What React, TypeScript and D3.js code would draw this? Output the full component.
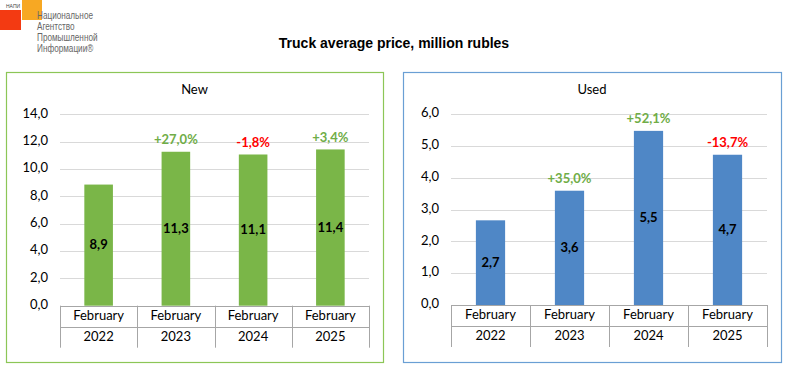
import * as d3 from "d3";
import { useEffect, useRef } from "react";

// ---- data ----
const months = ["February", "February", "February", "February"];
const years = ["2022", "2023", "2024", "2025"];

const newPrices = [8.86, 11.26, 11.06, 11.43];
const newChanges = [null, 27.0, -1.8, 3.4];
const newTicks = [0, 2, 4, 6, 8, 10, 12, 14];

const usedPrices = [2.66, 3.59, 5.47, 4.72];
const usedChanges = [null, 35.0, 52.1, -13.7];
const usedTicks = [0, 1, 2, 3, 4, 5, 6];

const COLORS = {
  green: "#7ab648",
  greenBorder: "#8cc657",
  greenText: "#70ad47",
  blue: "#4f87c6",
  blueBorder: "#6a9fd4",
  red: "#ff0000",
  grid: "#d9d9d9",
  axis: "#a6a6a6",
  text: "#000000",
};

const FONT = "Lato, 'Liberation Sans', sans-serif";

const fmtValue = (v: number) => d3.format(".1f")(v).replace(".", ",");
const fmtChange = (v: number) =>
  d3.format("+.1f")(v).replace("\u2212", "-").replace(".", ",") + "%";

interface PanelConfig {
  title: string;
  values: number[];
  changes: (number | null)[];
  ticks: number[];
  barColor: string;
  borderColor: string;
  box: { x: number; y: number; w: number; h: number };
  plot: { left: number; right: number; top: number; bottom: number };
}

type Sel = d3.Selection<SVGSVGElement, unknown, null, undefined>;

function renderPanel(svg: Sel, cfg: PanelConfig) {
  const g = svg.append("g");
  const { box, plot } = cfg;

  // frame
  g.append("rect")
    .attr("x", box.x + 0.5)
    .attr("y", box.y + 0.5)
    .attr("width", box.w)
    .attr("height", box.h)
    .attr("fill", "#fff")
    .attr("stroke", cfg.borderColor)
    .attr("stroke-width", 1.2);

  // panel title
  g.append("text")
    .attr("x", box.x + box.w / 2)
    .attr("y", box.y + 19)
    .attr("text-anchor", "middle")
    .attr("dominant-baseline", "middle")
    .attr("font-size", 13)
    .attr("fill", COLORS.text)
    .text(cfg.title);

  const x = d3
    .scaleBand<number>()
    .domain(d3.range(cfg.values.length))
    .range([plot.left, plot.right])
    .paddingInner(0)
    .paddingOuter(0);

  const y = d3
    .scaleLinear()
    .domain([0, d3.max(cfg.ticks) as number])
    .range([plot.bottom, plot.top]);

  // gridlines + y labels
  g.selectAll(".grid")
    .data(cfg.ticks.filter((t) => t > 0))
    .join("line")
    .attr("x1", plot.left)
    .attr("x2", plot.right)
    .attr("y1", (d) => Math.round(y(d)) + 0.5)
    .attr("y2", (d) => Math.round(y(d)) + 0.5)
    .attr("stroke", COLORS.grid);

  g.selectAll(".ylab")
    .data(cfg.ticks)
    .join("text")
    .attr("x", plot.left - 12)
    .attr("y", (d) => y(d))
    .attr("text-anchor", "end")
    .attr("dominant-baseline", "middle")
    .attr("font-size", 13)
    .attr("fill", COLORS.text)
    .text((d) => fmtValue(d));

  // bars
  const bw = x.bandwidth() * 0.37;
  g.selectAll(".bar")
    .data(cfg.values)
    .join("rect")
    .attr("x", (_, i) => (x(i) as number) + (x.bandwidth() - bw) / 2)
    .attr("y", (d) => y(d))
    .attr("width", bw)
    .attr("height", (d) => y(0) - y(d))
    .attr("fill", cfg.barColor);

  // value labels inside bars
  g.selectAll(".val")
    .data(cfg.values)
    .join("text")
    .attr("x", (_, i) => (x(i) as number) + x.bandwidth() / 2)
    .attr("y", (d) => (y(d) + y(0)) / 2 + 1)
    .attr("text-anchor", "middle")
    .attr("dominant-baseline", "middle")
    .attr("font-size", 13)
    .attr("font-weight", "bold")
    .attr("fill", COLORS.text)
    .text((d) => fmtValue(d));

  // change labels above bars
  g.selectAll(".chg")
    .data(cfg.values)
    .join("text")
    .attr("x", (_, i) => (x(i) as number) + x.bandwidth() / 2)
    .attr("y", (d) => y(d) - 11)
    .attr("text-anchor", "middle")
    .attr("dominant-baseline", "middle")
    .attr("font-size", 13)
    .attr("font-weight", "bold")
    .attr("fill", (_, i) =>
      (cfg.changes[i] ?? 0) < 0 ? COLORS.red : COLORS.greenText
    )
    .text((_, i) => (cfg.changes[i] == null ? "" : fmtChange(cfg.changes[i]!)));

  // category axis (two-level, Excel style)
  const axisBottom = plot.bottom + 42;
  const midLine = plot.bottom + 21;
  g.append("line")
    .attr("x1", plot.left)
    .attr("x2", plot.right)
    .attr("y1", Math.round(plot.bottom) + 0.5)
    .attr("y2", Math.round(plot.bottom) + 0.5)
    .attr("stroke", COLORS.axis);
  g.append("line")
    .attr("x1", plot.left)
    .attr("x2", plot.right)
    .attr("y1", Math.round(midLine) + 0.5)
    .attr("y2", Math.round(midLine) + 0.5)
    .attr("stroke", COLORS.axis);
  g.selectAll(".xtick")
    .data(d3.range(cfg.values.length + 1))
    .join("line")
    .attr("x1", (i) => Math.round(plot.left + i * x.bandwidth()) + 0.5)
    .attr("x2", (i) => Math.round(plot.left + i * x.bandwidth()) + 0.5)
    .attr("y1", plot.bottom)
    .attr("y2", axisBottom)
    .attr("stroke", COLORS.axis);

  g.selectAll(".month")
    .data(months)
    .join("text")
    .attr("x", (_, i) => (x(i) as number) + x.bandwidth() / 2)
    .attr("y", plot.bottom + 11)
    .attr("text-anchor", "middle")
    .attr("dominant-baseline", "middle")
    .attr("font-size", 13)
    .attr("fill", COLORS.text)
    .text((d) => d);

  g.selectAll(".year")
    .data(years)
    .join("text")
    .attr("x", (_, i) => (x(i) as number) + x.bandwidth() / 2)
    .attr("y", plot.bottom + 32)
    .attr("text-anchor", "middle")
    .attr("dominant-baseline", "middle")
    .attr("font-size", 13)
    .attr("fill", COLORS.text)
    .text((d) => d);
}

function renderLogo(svg: Sel) {
  const g = svg.append("g");
  g.append("rect").attr("x", 22).attr("y", 0).attr("width", 20).attr("height", 20).attr("fill", "#f7a823");
  g.append("rect").attr("x", 0).attr("y", 10).attr("width", 21).attr("height", 20).attr("fill", "#f33a12");
  g.append("text")
    .attr("x", 6)
    .attr("y", 8)
    .attr("font-size", 5)
    .attr("fill", "#444")
    .attr("font-family", "'Liberation Sans', sans-serif")
    .text("НАПИ");
  const lines = ["Национальное", "Агентство", "Промышленной", "Информации®"];
  g.append("g")
    .attr("transform", "translate(37,0) scale(0.78,1)")
    .selectAll("text")
    .data(lines)
    .join("text")
    .attr("x", 0)
    .attr("y", (_, i) => 19.5 + i * 10.7)
    .attr("font-size", 10.5)
    .attr("fill", "#666")
    .attr("font-family", "'Liberation Sans', sans-serif")
    .text((d) => d);
}

export default function App() {
  const svgRef = useRef<SVGSVGElement | null>(null);

  useEffect(() => {
    if (!svgRef.current) return;
    const svg = d3.select(svgRef.current);
    svg.selectAll("*").remove();

    svg.append("rect").attr("width", 798).attr("height", 369).attr("fill", "#fff");

    renderLogo(svg);

    svg
      .append("text")
      .attr("x", 394)
      .attr("y", 44)
      .attr("text-anchor", "middle")
      .attr("dominant-baseline", "middle")
      .attr("font-size", 14)
      .attr("font-weight", "bold")
      .attr("font-family", "'Liberation Sans', Arial, sans-serif")
      .attr("fill", COLORS.text)
      .text("Truck average price, million rubles");

    renderPanel(svg, {
      title: "New",
      values: newPrices,
      changes: newChanges,
      ticks: newTicks,
      barColor: COLORS.green,
      borderColor: COLORS.greenBorder,
      box: { x: 6, y: 72, w: 377, h: 290 },
      plot: { left: 60, right: 369, top: 114.3, bottom: 305.7 },
    });

    renderPanel(svg, {
      title: "Used",
      values: usedPrices,
      changes: usedChanges,
      ticks: usedTicks,
      barColor: COLORS.blue,
      borderColor: COLORS.blueBorder,
      box: { x: 403, y: 72, w: 378, h: 290 },
      plot: { left: 451, right: 767, top: 114, bottom: 305 },
    });
  }, []);

  return (
    <svg
      ref={svgRef}
      width={798}
      height={369}
      style={{ position: "absolute", left: 0, top: 0, fontFamily: FONT }}
    />
  );
}
